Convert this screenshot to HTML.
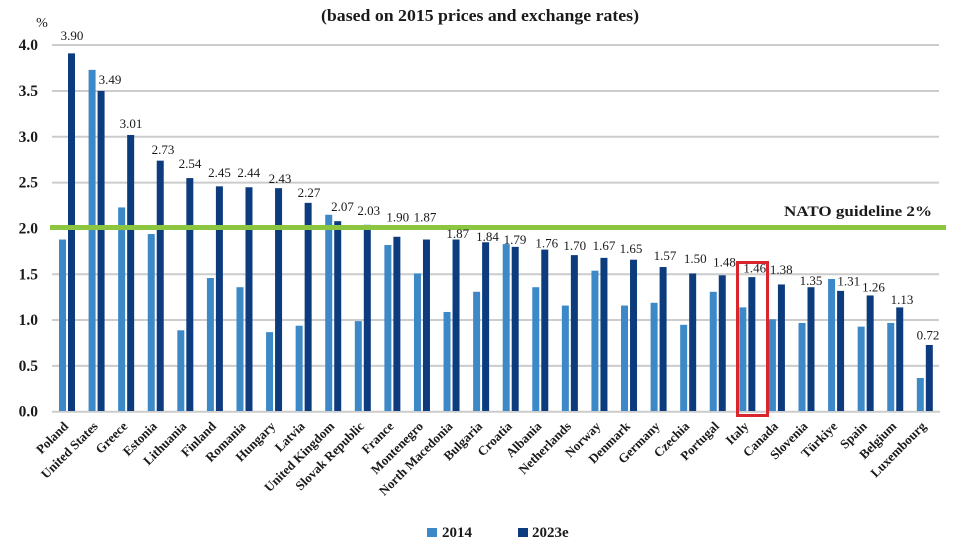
<!DOCTYPE html>
<html><head><meta charset="utf-8"><style>
html,body{margin:0;padding:0;background:#fff;}
svg{display:block;}
text{font-family:"Liberation Serif","DejaVu Serif",serif;fill:#1a1a1a;}
.ax{font-size:15.5px;font-weight:bold;text-anchor:end;}
.v{font-size:13px;text-anchor:middle;}
.c{font-size:13px;font-weight:bold;text-anchor:end;}
</style></head><body>
<svg width="959" height="543" viewBox="0 0 959 543" xmlns="http://www.w3.org/2000/svg">
<rect width="959" height="543" fill="#fff"/>
<text x="480" y="21" style="font-size:17px;font-weight:bold;text-anchor:middle" textLength="318" lengthAdjust="spacingAndGlyphs">(based on 2015 prices and exchange rates)</text>
<text x="42" y="27" style="font-size:14px;text-anchor:middle">%</text>
<g stroke="#cccccc" stroke-width="2">
<line x1="52" y1="45" x2="939" y2="45"/>
<line x1="52" y1="91" x2="939" y2="91"/>
<line x1="52" y1="136.8" x2="939" y2="136.8"/>
<line x1="52" y1="182.6" x2="939" y2="182.6"/>
<line x1="52" y1="274.3" x2="939" y2="274.3"/>
<line x1="52" y1="320" x2="939" y2="320"/>
<line x1="52" y1="365.9" x2="939" y2="365.9"/>
<line x1="52" y1="411.7" x2="940" y2="411.7"/>
</g>
<g>
<text class="ax" x="38" y="50">4.0</text>
<text class="ax" x="38" y="96">3.5</text>
<text class="ax" x="38" y="141.8">3.0</text>
<text class="ax" x="38" y="187.6">2.5</text>
<text class="ax" x="38" y="233.4">2.0</text>
<text class="ax" x="38" y="279.3">1.5</text>
<text class="ax" x="38" y="325">1.0</text>
<text class="ax" x="38" y="370.9">0.5</text>
<text class="ax" x="38" y="416.7">0.0</text>
</g>
<g transform="translate(0,411) scale(1,-91.7)">
<g fill="#3d89c7">
<rect x="59.0" y="0" width="7" height="1.87"/>
<rect x="88.58" y="0" width="7" height="3.72"/>
<rect x="118.16" y="0" width="7" height="2.22"/>
<rect x="147.74" y="0" width="7" height="1.93"/>
<rect x="177.32" y="0" width="7" height="0.88"/>
<rect x="206.9" y="0" width="7" height="1.45"/>
<rect x="236.48" y="0" width="7" height="1.35"/>
<rect x="266.06" y="0" width="7" height="0.86"/>
<rect x="295.64" y="0" width="7" height="0.93"/>
<rect x="325.22" y="0" width="7" height="2.14"/>
<rect x="354.8" y="0" width="7" height="0.98"/>
<rect x="384.38" y="0" width="7" height="1.81"/>
<rect x="413.96" y="0" width="7" height="1.50"/>
<rect x="443.54" y="0" width="7" height="1.08"/>
<rect x="473.12" y="0" width="7" height="1.30"/>
<rect x="502.7" y="0" width="7" height="1.82"/>
<rect x="532.28" y="0" width="7" height="1.35"/>
<rect x="561.86" y="0" width="7" height="1.15"/>
<rect x="591.44" y="0" width="7" height="1.53"/>
<rect x="621.02" y="0" width="7" height="1.15"/>
<rect x="650.6" y="0" width="7" height="1.18"/>
<rect x="680.18" y="0" width="7" height="0.94"/>
<rect x="709.76" y="0" width="7" height="1.30"/>
<rect x="739.34" y="0" width="7" height="1.13"/>
<rect x="768.92" y="0" width="7" height="1.00"/>
<rect x="798.5" y="0" width="7" height="0.96"/>
<rect x="828.08" y="0" width="7" height="1.44"/>
<rect x="857.66" y="0" width="7" height="0.92"/>
<rect x="887.24" y="0" width="7" height="0.96"/>
<rect x="916.82" y="0" width="7" height="0.36"/>
</g>
<g fill="#0c3c7e">
<rect x="68.0" y="0" width="7" height="3.90"/>
<rect x="97.58" y="0" width="7" height="3.49"/>
<rect x="127.16" y="0" width="7" height="3.01"/>
<rect x="156.74" y="0" width="7" height="2.73"/>
<rect x="186.32" y="0" width="7" height="2.54"/>
<rect x="215.9" y="0" width="7" height="2.45"/>
<rect x="245.48" y="0" width="7" height="2.44"/>
<rect x="275.06" y="0" width="7" height="2.43"/>
<rect x="304.64" y="0" width="7" height="2.27"/>
<rect x="334.22" y="0" width="7" height="2.07"/>
<rect x="363.8" y="0" width="7" height="2.03"/>
<rect x="393.38" y="0" width="7" height="1.90"/>
<rect x="422.96" y="0" width="7" height="1.87"/>
<rect x="452.54" y="0" width="7" height="1.87"/>
<rect x="482.12" y="0" width="7" height="1.84"/>
<rect x="511.7" y="0" width="7" height="1.79"/>
<rect x="541.28" y="0" width="7" height="1.76"/>
<rect x="570.86" y="0" width="7" height="1.70"/>
<rect x="600.44" y="0" width="7" height="1.67"/>
<rect x="630.02" y="0" width="7" height="1.65"/>
<rect x="659.6" y="0" width="7" height="1.57"/>
<rect x="689.18" y="0" width="7" height="1.50"/>
<rect x="718.76" y="0" width="7" height="1.48"/>
<rect x="748.34" y="0" width="7" height="1.46"/>
<rect x="777.92" y="0" width="7" height="1.38"/>
<rect x="807.5" y="0" width="7" height="1.35"/>
<rect x="837.08" y="0" width="7" height="1.31"/>
<rect x="866.66" y="0" width="7" height="1.26"/>
<rect x="896.24" y="0" width="7" height="1.13"/>
<rect x="925.82" y="0" width="7" height="0.72"/>
</g>
</g>
<rect x="50" y="225" width="896" height="5" fill="#8cc640"/>
<text x="932" y="216" style="font-size:15px;font-weight:bold;text-anchor:end" textLength="148" lengthAdjust="spacingAndGlyphs">NATO guideline 2%</text>
<rect x="737.5" y="262.5" width="30" height="153" fill="none" stroke="#d9252b" stroke-width="3"/>
<g class="vals">
<text class="v" x="72" y="40">3.90</text>
<text class="v" x="110" y="84">3.49</text>
<text class="v" x="131" y="128">3.01</text>
<text class="v" x="163" y="154">2.73</text>
<text class="v" x="190" y="168">2.54</text>
<text class="v" x="219.5" y="177">2.45</text>
<text class="v" x="248.7" y="177">2.44</text>
<text class="v" x="280" y="183">2.43</text>
<text class="v" x="309" y="197">2.27</text>
<text class="v" x="342.5" y="211">2.07</text>
<text class="v" x="368.7" y="215">2.03</text>
<text class="v" x="397.8" y="221.7">1.90</text>
<text class="v" x="425" y="221.7">1.87</text>
<text class="v" x="457.8" y="238">1.87</text>
<text class="v" x="487.5" y="241">1.84</text>
<text class="v" x="515" y="244">1.79</text>
<text class="v" x="546.7" y="247.3">1.76</text>
<text class="v" x="574.7" y="250">1.70</text>
<text class="v" x="604" y="250">1.67</text>
<text class="v" x="631" y="253">1.65</text>
<text class="v" x="665" y="260">1.57</text>
<text class="v" x="695.3" y="263">1.50</text>
<text class="v" x="724.5" y="266.7">1.48</text>
<text class="v" x="754.7" y="272.7">1.46</text>
<text class="v" x="781.3" y="274">1.38</text>
<text class="v" x="811" y="285">1.35</text>
<text class="v" x="848.7" y="285.7">1.31</text>
<text class="v" x="873.5" y="291.7">1.26</text>
<text class="v" x="902" y="304">1.13</text>
<text class="v" x="928" y="339.3">0.72</text>
</g>
<g>
<text class="c" transform="translate(69,427) rotate(-45)">Poland</text>
<text class="c" transform="translate(98.6,427) rotate(-45)">United States</text>
<text class="c" transform="translate(128.2,427) rotate(-45)">Greece</text>
<text class="c" transform="translate(157.7,427) rotate(-45)">Estonia</text>
<text class="c" transform="translate(187.3,427) rotate(-45)">Lithuania</text>
<text class="c" transform="translate(216.9,427) rotate(-45)">Finland</text>
<text class="c" transform="translate(246.5,427) rotate(-45)">Romania</text>
<text class="c" transform="translate(276.1,427) rotate(-45)">Hungary</text>
<text class="c" transform="translate(305.6,427) rotate(-45)">Latvia</text>
<text class="c" transform="translate(335.2,427) rotate(-45)">United Kingdom</text>
<text class="c" transform="translate(364.8,427) rotate(-45)">Slovak Republic</text>
<text class="c" transform="translate(394.4,427) rotate(-45)">France</text>
<text class="c" transform="translate(424,427) rotate(-45)">Montenegro</text>
<text class="c" transform="translate(453.5,427) rotate(-45)">North Macedonia</text>
<text class="c" transform="translate(483.1,427) rotate(-45)">Bulgaria</text>
<text class="c" transform="translate(512.7,427) rotate(-45)">Croatia</text>
<text class="c" transform="translate(542.3,427) rotate(-45)">Albania</text>
<text class="c" transform="translate(571.9,427) rotate(-45)">Netherlands</text>
<text class="c" transform="translate(601.4,427) rotate(-45)">Norway</text>
<text class="c" transform="translate(631,427) rotate(-45)">Denmark</text>
<text class="c" transform="translate(660.6,427) rotate(-45)">Germany</text>
<text class="c" transform="translate(690.2,427) rotate(-45)">Czechia</text>
<text class="c" transform="translate(719.8,427) rotate(-45)">Portugal</text>
<text class="c" transform="translate(749.3,427) rotate(-45)">Italy</text>
<text class="c" transform="translate(778.9,427) rotate(-45)">Canada</text>
<text class="c" transform="translate(808.5,427) rotate(-45)">Slovenia</text>
<text class="c" transform="translate(838.1,427) rotate(-45)">Türkiye</text>
<text class="c" transform="translate(867.7,427) rotate(-45)">Spain</text>
<text class="c" transform="translate(897.2,427) rotate(-45)">Belgium</text>
<text class="c" transform="translate(926.8,427) rotate(-45)">Luxembourg</text>
</g>
<rect x="427" y="528" width="10" height="9" fill="#3d89c7"/>
<text x="442" y="537" style="font-size:15px;font-weight:bold">2014</text>
<rect x="518" y="528" width="10" height="9" fill="#0c3c7e"/>
<text x="532" y="537" style="font-size:15px;font-weight:bold">2023e</text>
</svg>
</body></html>
